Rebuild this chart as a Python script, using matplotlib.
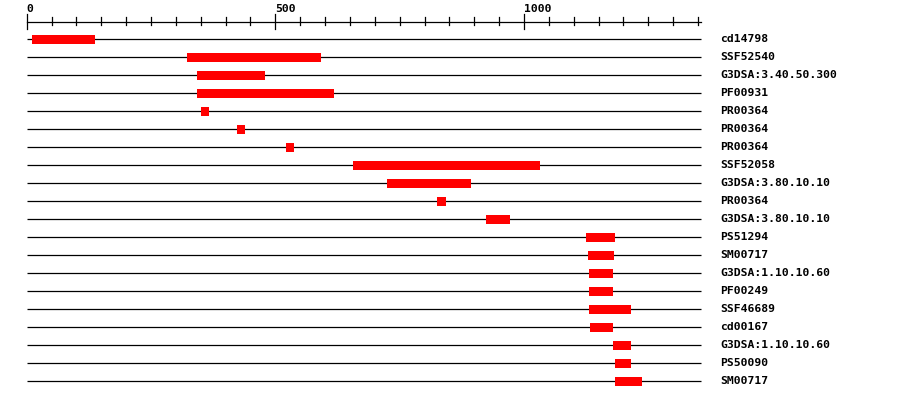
import matplotlib
matplotlib.use("Agg")
import matplotlib.pyplot as plt

# Dominios / firmas y sus posiciones (inicio, fin) sobre la secuencia
etiquetas = ["cd14798", "SSF52540", "G3DSA:3.40.50.300", "PF00931", "PR00364",
             "PR00364", "PR00364", "SSF52058", "G3DSA:3.80.10.10", "PR00364",
             "G3DSA:3.80.10.10", "PS51294", "SM00717", "G3DSA:1.10.10.60", "PF00249",
             "SSF46689", "cd00167", "G3DSA:1.10.10.60", "PS50090", "SM00717"]
inicios = [11, 323, 342, 342, 350, 423, 521, 656, 724, 825,
           924, 1125, 1129, 1131, 1131, 1131, 1133, 1179, 1183, 1183]
finales = [137, 591, 479, 617, 367, 439, 537, 1032, 893, 843,
           972, 1183, 1181, 1179, 1179, 1215, 1179, 1215, 1215, 1237]

longitud = 1355
ticks_mayores = [0, 500, 1000]
ticks_menores = list(range(0, 1351, 50))

# escala: ~0.4973 px por residuo, 0 en x=26.7 px; filas cada 18 px
px = 0.4973
fig = plt.figure(figsize=(9, 4), dpi=100)
ax = fig.add_axes([0, 0, 1, 1])
ax.set_xlim(-26.7 / px, (900 - 26.7) / px)
ax.set_ylim((400 - 39.3) / 18, -39.3 / 18)
ax.axis("off")

fuente = dict(family="DejaVu Sans Mono", fontweight="bold", fontsize=8.2)

# Regla superior
ax.plot([0, longitud], [-0.978, -0.978], color="black", lw=0.9)
for t in ticks_menores:
    if t in ticks_mayores:
        ax.plot([t, t], [-1.389, -0.589], color="black", lw=0.9)
        ax.text(t, -1.52, str(t), ha="left", va="baseline", **fuente)
    else:
        ax.plot([t, t], [-1.222, -0.811], color="black", lw=0.9)

# Una fila por dominio
filas = list(range(len(etiquetas)))
ax.hlines(filas, 0, longitud, color="black", lw=0.9)
anchos = [f - i for i, f in zip(inicios, finales)]
ax.barh(filas, anchos, left=inicios, height=0.5, color="#ff0000", zorder=3)
for fila, nombre in zip(filas, etiquetas):
    ax.text(longitud + 19.5 / px, fila, nombre, ha="left", va="center", **fuente)

plt.savefig("out.png", dpi=100)
